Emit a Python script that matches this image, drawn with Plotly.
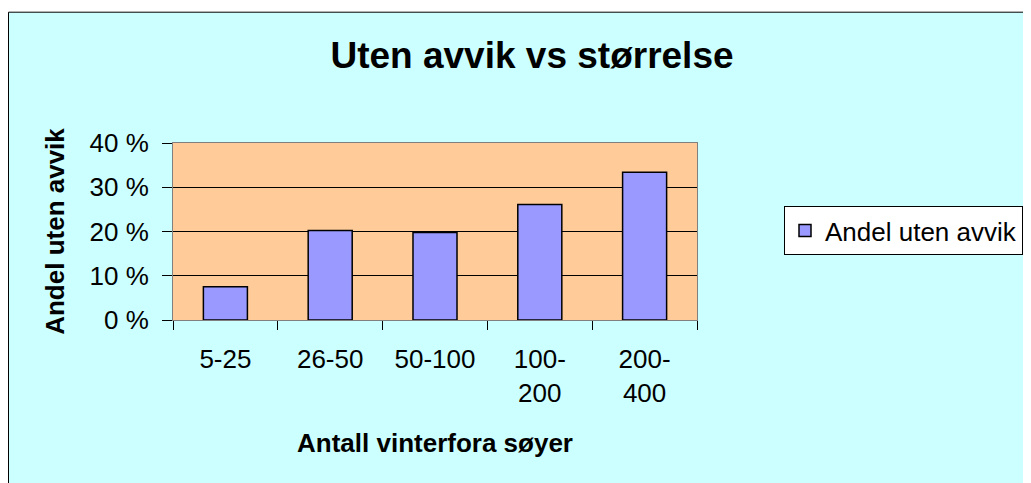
import plotly.graph_objects as go

categories = ["5-25", "26-50", "50-100", "100-200", "200-400"]
tick_labels = ["5-25", "26-50", "50-100", "100-<br>200", "200-<br>400"]
values = [0.075, 0.202, 0.198, 0.261, 0.334]
series_name = "Andel uten avvik"
y_ticks = [0, 0.1, 0.2, 0.3, 0.4]
y_tick_labels = ["0 %", "10 %", "20 %", "30 %", "40 %"]

W, H = 1031, 483
# plot area in figure pixel coordinates
L, R, T, B = 165, 689, 135.3, 312.3

def px(x):
    return (x - L) / (R - L)

def py(y):
    return (B - y) / (B - T)

font = "Arial, 'Liberation Sans', sans-serif"

fig = go.Figure()
fig.add_trace(go.Bar(
    x=categories, y=values, name=series_name,
    marker=dict(color="#9999FF", line=dict(color="black", width=1.5)),
    showlegend=True,
))

fig.update_layout(
    width=W, height=H,
    margin=dict(l=L, r=W - R, t=T, b=H - B, pad=0),
    paper_bgcolor="#CCFFFF",
    plot_bgcolor="#FFCC99",
    bargap=0.58,
    font=dict(family=font, size=26, color="black"),
    title=dict(text="<b>Uten avvik vs størrelse</b>", x=px(524), xref="paper",
               xanchor="center", y=1 - 47 / H, yanchor="middle",
               font=dict(size=37, family=font)),
    xaxis=dict(
        tickmode="array", tickvals=categories, ticktext=tick_labels,
        tickson="boundaries", ticks="outside", ticklen=9, tickcolor="black",
        showline=True, linecolor="#808080", linewidth=1, mirror=True,
        showgrid=False,
        ticklabelstandoff=16,
        title=dict(text="<b>Antall vinterfora søyer</b>", standoff=26,
                   font=dict(size=26)),
        tickfont=dict(size=26),
    ),
    yaxis=dict(
        range=[0, 0.4], tickvals=y_ticks, ticktext=y_tick_labels,
        ticks="outside", ticklen=10, tickcolor="black",
        showline=True, linecolor="#808080", linewidth=1, mirror=True,
        showgrid=True, gridcolor="black", gridwidth=1,
        zeroline=False,
        ticklabelstandoff=8,
        title=dict(text="<b>Andel uten avvik</b>", standoff=17,
                   font=dict(size=26)),
        tickfont=dict(size=26),
    ),
    legend=dict(
        x=px(776), y=py(223), xanchor="left", yanchor="middle",
        bgcolor="white", bordercolor="black", borderwidth=1,
        font=dict(size=26),
    ),
    shapes=[
        # white strip above the chart border
        dict(type="rect", xref="paper", yref="paper",
             x0=px(-5), x1=px(W + 5), y0=py(4.5), y1=py(-5),
             line=dict(width=0), fillcolor="white", layer="above"),
        # chart border (top and left visible)
        dict(type="rect", xref="paper", yref="paper",
             x0=px(0.5), x1=px(W + 20), y0=py(H + 20), y1=py(4.5),
             line=dict(color="black", width=1), fillcolor="rgba(0,0,0,0)",
             layer="above"),
    ],
)

fig.write_html("out.html")
